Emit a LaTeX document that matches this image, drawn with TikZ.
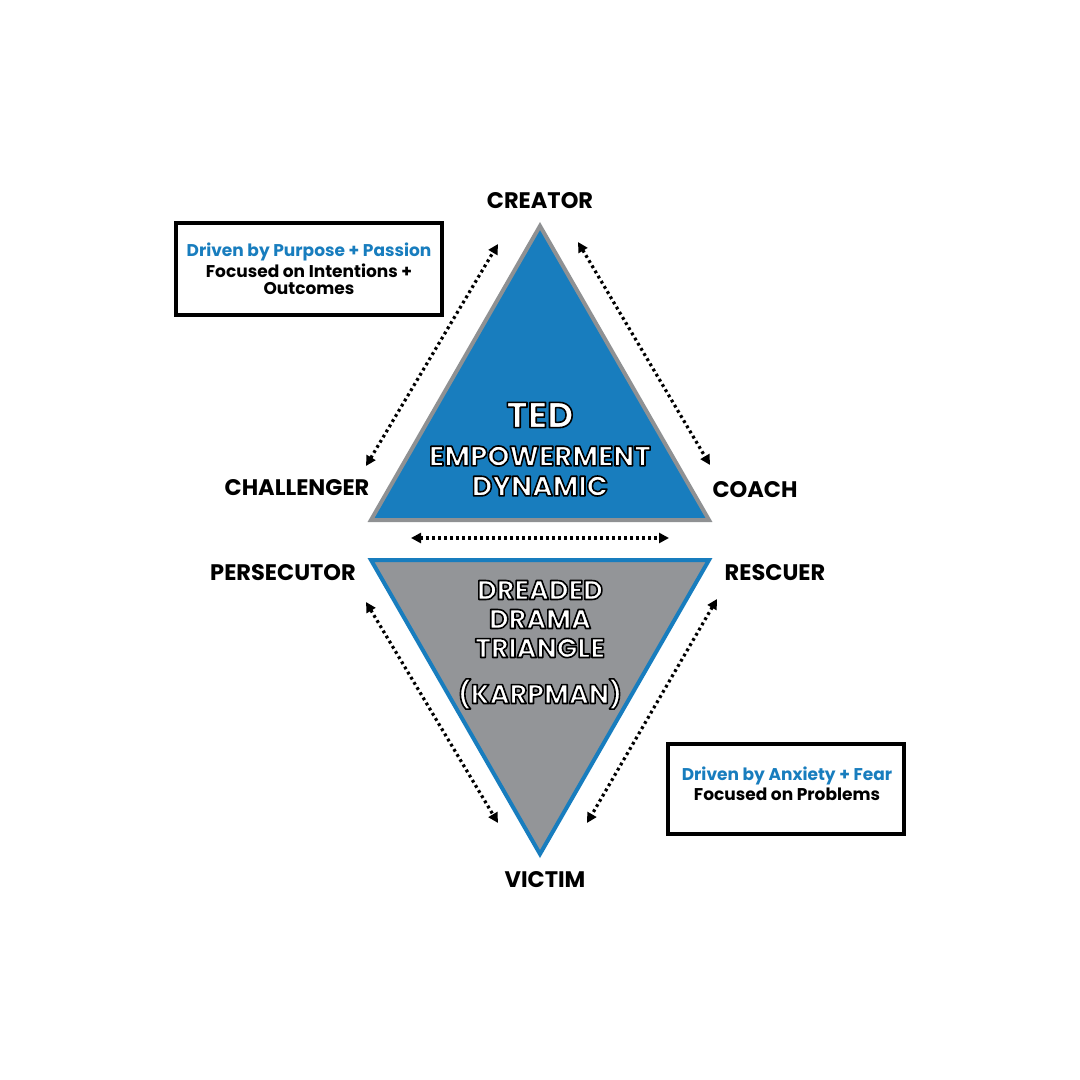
\documentclass[tikz,border=0pt]{standalone}
\usepackage{fontspec}
\setmainfont{Poppins}
\usetikzlibrary{arrows.meta}
\definecolor{tedblue}{RGB}{24,125,190}
\definecolor{ddgray}{RGB}{147,149,152}
\definecolor{edgegray}{RGB}{143,145,147}
\tikzset{
  role/.style={font=\bfseries\fontsize{22.5}{24}\selectfont, inner sep=0pt, anchor=center},
  dotarrow/.style={line width=3.2pt, dash pattern=on 2.8pt off 3.2pt, {Triangle[length=10pt,width=10pt]}-{Triangle[length=10pt,width=10pt]}},
  outtext/.style={inner sep=0pt, anchor=center},
  infobox/.style={draw=black, line width=3.5pt, fill=white},
  boxtxt/.style={font=\bfseries\fontsize{17}{18}\selectfont, inner sep=0pt, anchor=center},
}
\newcommand\olt[2]{\fontsize{#1}{#1}\selectfont\bfseries{\color{white}\special{pdf:literal direct q 2 Tr 0 G 1.6 w 1 j}#2\special{pdf:literal direct Q}}}
\begin{document}
\begin{tikzpicture}[x=1pt,y=-1pt]
\useasboundingbox (0,0) rectangle (1080,1080);
\fill[white] (0,0) rectangle (1080,1080);

% triangles
\draw[fill=tedblue, draw=edgegray, line width=4pt, line join=miter] (540,226) -- (709,520) -- (371,520) -- cycle;
\draw[fill=ddgray, draw=tedblue, line width=4pt, line join=miter] (371,560) -- (709,560) -- (540,854) -- cycle;

% triangle texts
\node[outtext] (ted) at (540,415) {\olt{36}{TED}};
\node[outtext] (emp) at (540,456) {\olt{28}{EMPOWERMENT}};
\node[outtext] (dyn) at (540,486) {\olt{28}{DYNAMIC}};
\node[outtext] (dre) at (540,590) {\olt{27}{DREADED}};
\node[outtext] (dra) at (540,619) {\olt{27}{DRAMA}};
\node[outtext] (tri) at (540,648) {\olt{27}{TRIANGLE}};
\node[outtext] (kar) at (540,694) {\olt{27}{(KARPMAN)}};

% role labels
\node[role] (creator) at (540,201) {CREATOR};
\node[role] (challenger) at (297,488) {CHALLENGER};
\node[role] (coach) at (755,490) {COACH};
\node[role] (persecutor) at (283,573) {PERSECUTOR};
\node[role] (rescuer) at (775,573) {RESCUER};
\node[role] (victim) at (545,880) {VICTIM};

% arrow endpoints
\coordinate (a1) at (498,244);
\coordinate (a2) at (366,466);
\coordinate (b1) at (578,242);
\coordinate (b2) at (710,465);
\coordinate (c1) at (411,538);
\coordinate (c2) at (669,538);
\coordinate (d1) at (366,602);
\coordinate (d2) at (498,823);
\coordinate (e1) at (717,599);
\coordinate (e2) at (587,823);
\draw[dotarrow] (a2) -- (a1);
\draw[dotarrow] (b1) -- (b2);
\draw[dotarrow] (c1) -- (c2);
\draw[dotarrow] (d1) -- (d2);
\draw[dotarrow] (e1) -- (e2);

% info boxes
\draw[infobox] (176,223) rectangle (442,315);
\node[boxtxt, text=tedblue] (p1) at (309,252) {Driven by Purpose + Passion};
\node[boxtxt] (p2) at (309,271) {Focused on Intentions +};
\node[boxtxt] (p3) at (309,289) {Outcomes};

\draw[infobox] (668,744) rectangle (904,834);
\node[boxtxt, text=tedblue] (q1) at (787,776) {Driven by Anxiety + Fear};
\node[boxtxt] (q2) at (787,794) {Focused on Problems};
\end{tikzpicture}
\end{document}
